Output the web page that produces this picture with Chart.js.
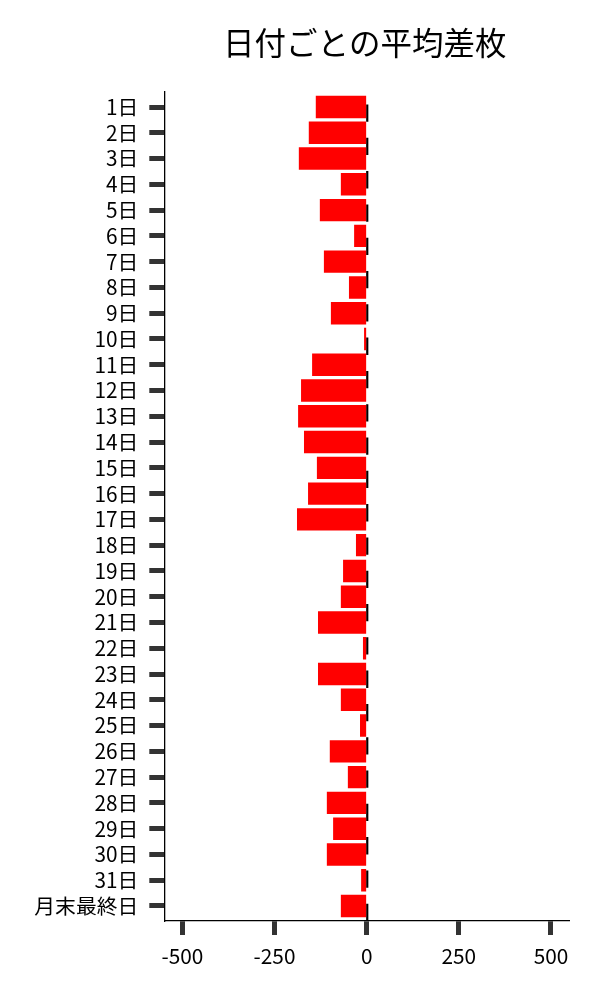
<!DOCTYPE html>
<html>
<head>
<meta charset="utf-8">
<script src="https://cdn.jsdelivr.net/npm/chart.js@4"></script>
<style>
html,body{margin:0;padding:0;background:#fff;}
#wrap{width:600px;height:1000px;}
</style>
</head>
<body>
<div id="wrap"><canvas id="c"></canvas></div>
<script>
const titleText = "日付ごとの平均差枚";
const days = ["1日","2日","3日","4日","5日","6日","7日","8日","9日","10日","11日","12日","13日","14日","15日","16日","17日","18日","19日","20日","21日","22日","23日","24日","25日","26日","27日","28日","29日","30日","31日","月末最終日"];
const values = [-138,-157,-184,-70,-127,-34,-116,-48,-97,-7,-148,-178,-186,-170,-135,-159,-189,-29,-64,-70,-132,-10,-132,-70,-18,-100,-51,-108,-91,-108,-15,-70];
const xTicks = [-500,-250,0,250,500];

const FONT = "'Noto Sans CJK JP','Noto Sans',sans-serif";

const zeroLine = {
  id: 'zeroLine',
  beforeDatasetsDraw(chart) {
    const {ctx, chartArea, scales} = chart;
    const x = scales.x.getPixelForValue(0) + 0.6;
    ctx.save();
    ctx.strokeStyle = '#000';
    ctx.lineWidth = 2.2;
    ctx.setLineDash([17.3, 16]);
    ctx.beginPath();
    ctx.moveTo(x, chartArea.bottom);
    ctx.lineTo(x, chartArea.top);
    ctx.stroke();
    ctx.restore();
  }
};

const titlePlugin = {
  id: 'titleCenter',
  afterDraw(chart) {
    const {ctx, chartArea} = chart;
    ctx.save();
    ctx.fillStyle = '#000';
    ctx.font = "31.5px " + FONT;
    ctx.textAlign = 'center';
    ctx.textBaseline = 'middle';
    ctx.fillText(titleText, (chartArea.left + chartArea.right) / 2 - 2, 43.5);
    ctx.restore();
  }
};

new Chart(document.getElementById('c'), {
  type: 'bar',
  data: {
    datasets: [{
      data: values.map((v, i) => ({x: v, y: i})),
      backgroundColor: '#ff0000',
      borderWidth: 0,
      barPercentage: 0.87,
      categoryPercentage: 1.0
    }]
  },
  options: {
    indexAxis: 'y',
    responsive: true,
    maintainAspectRatio: false,
    animation: false,
    layout: {padding: {top: 92, right: 31, bottom: 0, left: 0}},
    plugins: {legend: {display: false}, tooltip: {enabled: false}, title: {display: false}},
    scales: {
      x: {
        type: 'linear',
        min: -549,
        max: 549,
        offset: false,
        afterBuildTicks: (s) => { s.ticks = xTicks.map(v => ({value: v})); },
        afterFit: (s) => { s.height = 79; },
        grid: {display: true, offset: false, drawOnChartArea: false, tickLength: 14, tickWidth: 5, tickColor: '#333'},
        border: {display: true, color: '#000', width: 1.3},
        ticks: {color: '#000', font: {family: FONT, size: 20.8}, padding: 9, maxRotation: 0}
      },
      y: {
        type: 'linear',
        reverse: true,
        min: -0.582,
        max: 31.582,
        offset: false,
        afterBuildTicks: (s) => { s.ticks = days.map((d, i) => ({value: i})); },
        afterFit: (s) => { s.width = 164.3; },
        grid: {display: true, offset: false, drawOnChartArea: false, tickLength: 15, tickWidth: 5, tickColor: '#333'},
        border: {display: true, color: '#000', width: 1.3},
        ticks: {
          color: '#000', font: {family: FONT, size: 20.8}, padding: 11, autoSkip: false,
          callback: (v) => days[Math.round(v)]
        }
      }
    }
  },
  plugins: [zeroLine, titlePlugin]
});
</script>
</body>
</html>
